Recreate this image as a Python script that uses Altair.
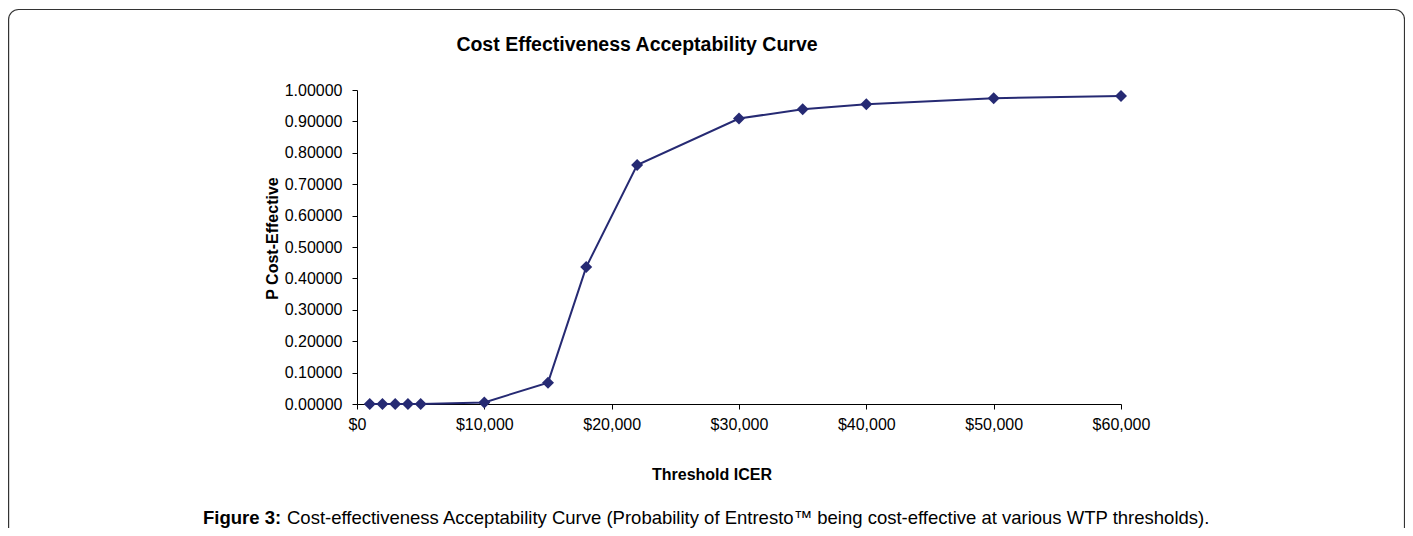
import altair as alt
import pandas as pd

# ---- data ----
wtp = [1000, 2000, 3000, 4000, 5000, 10000, 15000, 18000, 22000, 30000, 35000, 40000, 50000, 60000]
p_ce = [0.0, 0.0, 0.0, 0.0, 0.0, 0.005, 0.068, 0.436, 0.761, 0.909, 0.939, 0.955, 0.974, 0.981]
x_ticks = [0, 10000, 20000, 30000, 40000, 50000, 60000]
y_ticks = [0.0, 0.1, 0.2, 0.3, 0.4, 0.5, 0.6, 0.7, 0.8, 0.9, 1.0]

chart_title = "Cost Effectiveness Acceptability Curve"
x_title = "Threshold ICER"
y_title = "P Cost-Effective"
cap_bold = "Figure 3:"
cap_rest = "Cost-effectiveness Acceptability Curve (Probability of Entresto\u2122 being cost-effective at various WTP thresholds)."

NAVY = "#262A73"
FONT = "Liberation Sans"

df = pd.DataFrame({"wtp": wtp, "p": p_ce})

xenc = alt.X("wtp:Q", scale=alt.Scale(domain=[0, 60000], nice=False),
             axis=alt.Axis(values=x_ticks, format="$,.0f", title=None, grid=False,
                           tickSize=5, labelPadding=7, labelFontSize=16, labelFlush=False,
                           labelColor="#000", domainColor="#000", tickColor="#000",
                           labelFont=FONT))
yenc = alt.Y("p:Q", scale=alt.Scale(domain=[0, 1], nice=False),
             axis=alt.Axis(values=y_ticks, format=".5f", title=None, grid=False,
                           tickSize=5, labelPadding=10, labelFontSize=16, labelFlush=False,
                           labelColor="#000", domainColor="#000", tickColor="#000",
                           labelFont=FONT))

line = alt.Chart(df).mark_line(color=NAVY, strokeWidth=2).encode(x=xenc, y=yenc)
pts = alt.Chart(df).mark_point(shape="diamond", filled=True, color=NAVY, size=144, opacity=1).encode(x=xenc, y=yenc)

one = pd.DataFrame({"k": [0]})

border = alt.Chart(one).mark_rect(fill="white", fillOpacity=0, stroke="#333333",
                                  strokeWidth=1.2, cornerRadius=10).encode(
    x=alt.value(-348.4), x2=alt.value(1047.5), y=alt.value(-80.5), y2=alt.value(520))


def txt(s, x, y, size, bold=False, align="left", angle=0):
    kw = dict(font=FONT, fontSize=size, fontWeight="bold" if bold else "normal",
              align=align, baseline="alphabetic", color="#000")
    if angle:
        kw["angle"] = angle
    return alt.Chart(pd.DataFrame({"t": [s]})).mark_text(**kw).encode(
        x=alt.value(x), y=alt.value(y), text="t:N")


texts = [
    txt(chart_title, 280, -39, 19.5, bold=True, align="center"),
    txt(x_title, 355, 390, 16, bold=True, align="center"),
    txt(y_title, -79, 148.5, 16, bold=True, align="center", angle=270),
    txt(cap_bold, -154, 434, 18.5, bold=True),
    txt(cap_rest, -70, 434, 18.5),
]

chart = alt.layer(border, line, pts, *texts).properties(
    width=764, height=314,
    autosize=alt.AutoSizeParams(type="none"),
    padding={"left": 349, "top": 82, "right": 284, "bottom": 124},
).configure(font=FONT).configure_view(strokeWidth=0)

chart.save("out.html", embed_options={"renderer": "svg", "actions": False})
